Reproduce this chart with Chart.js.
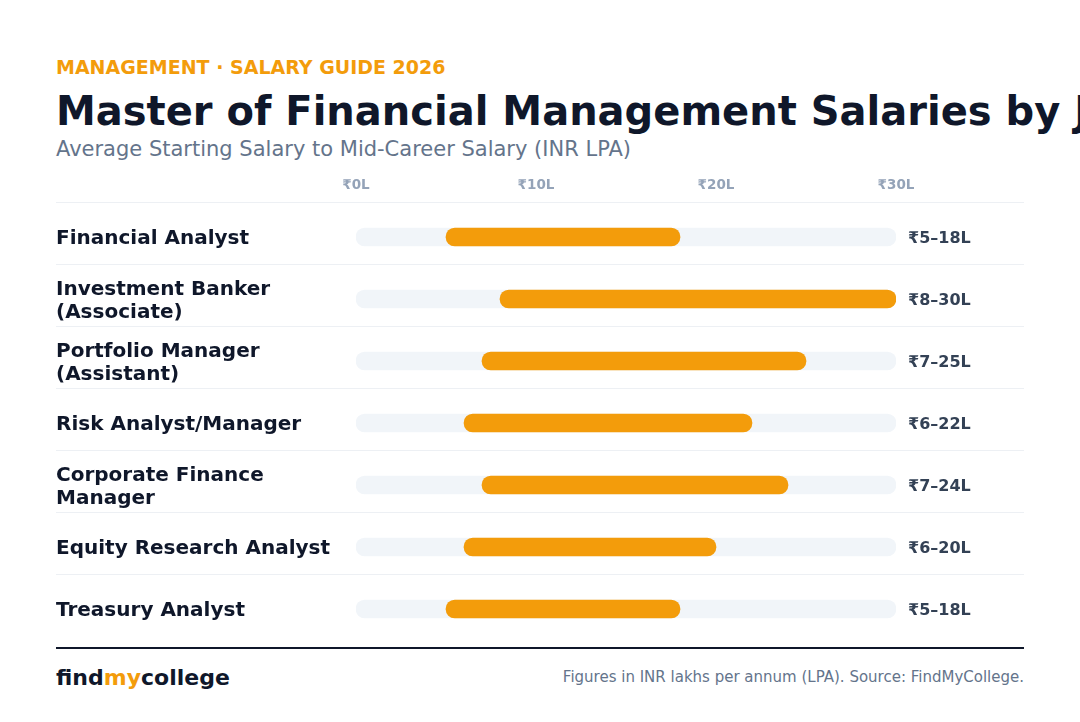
<!DOCTYPE html>
<html>
<head>
<meta charset="utf-8">
<script src="https://cdn.jsdelivr.net/npm/chart.js@4.4.1/dist/chart.umd.min.js"></script>
<style>
  html, body { margin: 0; padding: 0; background: #fff; }
  body { width: 1080px; height: 722px; position: relative; overflow: hidden; font-family: "DejaVu Sans", sans-serif; }
  .txt { position: absolute; left: 56px; line-height: 1; white-space: nowrap; }
  #kicker { top: 58px; font-size: 19px; font-weight: bold; color: #f39c0b; }
  #title { top: 91px; font-size: 40px; font-weight: bold; color: #0f172a; }
  #subtitle { top: 139px; font-size: 21px; color: #64748b; }
  #chartBox { position: absolute; left: 56px; top: 160px; width: 968px; height: 480px; }
  #rule { position: absolute; left: 56px; top: 647px; width: 968px; height: 2px; background: #0f172a; }
  #brand { top: 667px; font-size: 22px; font-weight: bold; color: #0f172a; }
  #brand span { color: #f39c0b; }
  #source { top: 670px; left: auto; right: 56px; font-size: 15px; color: #64748b; }
</style>
</head>
<body>
<div class="txt" id="kicker">MANAGEMENT · SALARY GUIDE 2026</div>
<div class="txt" id="title">Master of Financial Management Salaries by Job Role</div>
<div class="txt" id="subtitle">Average Starting Salary to Mid-Career Salary (INR LPA)</div>
<div id="chartBox"><canvas id="salaryChart"></canvas></div>
<div id="rule"></div>
<div class="txt" id="brand">find<span>my</span>college</div>
<div class="txt" id="source">Figures in INR lakhs per annum (LPA). Source: FindMyCollege.</div>

<script>
// job roles (multi-line ones split into arrays)
const roles = [
    'Financial Analyst',
    ['Investment Banker', '(Associate)'],
    ['Portfolio Manager', '(Assistant)'],
    'Risk Analyst/Manager',
    ['Corporate Finance', 'Manager'],
    'Equity Research Analyst',
    'Treasury Analyst'
];
// salary range in lakhs per annum
const startSalary = [5, 8, 7, 6, 7, 6, 5];
const midSalary = [18, 30, 25, 22, 24, 20, 18];
const axisMin = 0;
const axisMax = 30;
const axisStep = 10;

const orange = '#f39c0b';
const track = '#f1f5f9';

const ranges = startSalary.map((s, i) => [s, midSalary[i]]);
const tracks = roles.map(() => [axisMin, axisMax]);

// thin line above each row, across the full width
const rowLines = {
    id: 'rowLines',
    beforeDatasetsDraw(chart) {
        const ctx = chart.ctx;
        const y = chart.scales.y;
        const rowH = y.height / roles.length;
        ctx.save();
        ctx.strokeStyle = '#edf0f4';
        ctx.lineWidth = 1;
        roles.forEach((r, i) => {
            const py = Math.round(y.getPixelForValue(i) - rowH / 2 - 4) + 0.5;
            ctx.beginPath();
            ctx.moveTo(0, py);
            ctx.lineTo(chart.width, py);
            ctx.stroke();
        });
        ctx.restore();
    }
};

// range text on the right of every track
const rangeLabels = {
    id: 'rangeLabels',
    afterDatasetsDraw(chart) {
        const ctx = chart.ctx;
        const y = chart.scales.y;
        ctx.save();
        ctx.font = 'bold 16px "DejaVu Sans"';
        ctx.fillStyle = '#334155';
        ctx.textAlign = 'left';
        ctx.textBaseline = 'middle';
        roles.forEach((r, i) => {
            ctx.fillText('₹' + startSalary[i] + '–' + midSalary[i] + 'L', chart.chartArea.right + 12, y.getPixelForValue(i) + 2);
        });
        ctx.restore();
    }
};

const ctxSalary = document.getElementById('salaryChart').getContext('2d');

const salaryChart = new Chart(ctxSalary, {
    type: 'bar',
    data: {
        labels: roles,
        datasets: [
            {
                label: 'Salary range',
                data: ranges,
                backgroundColor: orange,
                borderRadius: 9,
                borderSkipped: false,
                barThickness: 18,
                grouped: false,
                order: 0
            },
            {
                label: 'Track',
                data: tracks,
                backgroundColor: track,
                borderRadius: 9,
                borderSkipped: false,
                barThickness: 18,
                grouped: false,
                order: 1
            }
        ]
    },
    options: {
        indexAxis: 'y',
        responsive: true,
        maintainAspectRatio: false,
        animation: false,
        layout: { padding: { left: 0, right: 128, top: 0, bottom: 0 } },
        plugins: {
            legend: { display: false },
            tooltip: { enabled: false }
        },
        scales: {
            x: {
                position: 'top',
                min: axisMin,
                max: axisMax,
                grid: { display: false, drawTicks: false },
                border: { display: false },
                ticks: {
                    stepSize: axisStep,
                    padding: 12,
                    color: '#94a3b8',
                    font: { family: 'DejaVu Sans', size: 13.5, weight: 'bold' },
                    callback: (v) => '₹' + v + 'L'
                },
                afterFit: (scale) => { scale.height = 46; }
            },
            y: {
                grid: { display: false, drawTicks: false },
                border: { display: false },
                ticks: {
                    crossAlign: 'far',
                    padding: 0,
                    labelOffset: 2,
                    color: '#0f172a',
                    font: { family: 'DejaVu Sans', size: 20, weight: 'bold', lineHeight: 1.15 }
                },
                afterFit: (scale) => {
                    scale.width = 300;
                    scale.paddingTop = 0;
                    scale.paddingBottom = 0;
                }
            }
        }
    },
    plugins: [rowLines, rangeLabels]
});
</script>
</body>
</html>
